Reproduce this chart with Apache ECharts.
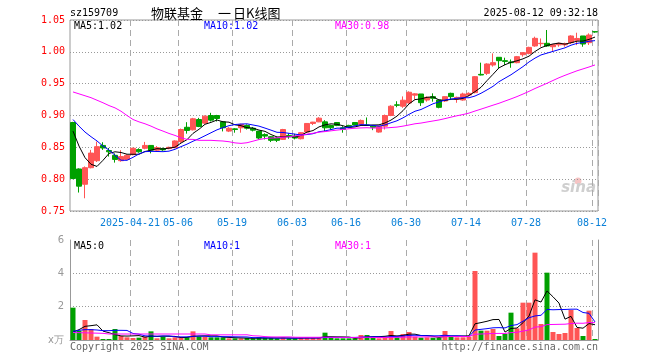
<!DOCTYPE html>
<html><head><meta charset="utf-8">
<script src="https://cdn.jsdelivr.net/npm/echarts@6/dist/echarts.min.js"></script>
<style>html,body{margin:0;padding:0;background:#fff}#c{width:660px;height:360px}</style>
</head><body><div id="c"></div>
<script>
// ---------------- data ----------------
const dates = [
 '2025-04-07','2025-04-08','2025-04-09','2025-04-10','2025-04-11','2025-04-14','2025-04-15','2025-04-16','2025-04-17','2025-04-18',
 '2025-04-21','2025-04-22','2025-04-23','2025-04-24','2025-04-25','2025-04-28','2025-04-29','2025-04-30',
 '2025-05-06','2025-05-07','2025-05-08','2025-05-09','2025-05-12','2025-05-13','2025-05-14','2025-05-15','2025-05-16',
 '2025-05-19','2025-05-20','2025-05-21','2025-05-22','2025-05-23','2025-05-26','2025-05-27','2025-05-28','2025-05-29','2025-05-30',
 '2025-06-03','2025-06-04','2025-06-05','2025-06-06','2025-06-09','2025-06-10','2025-06-11','2025-06-12','2025-06-13',
 '2025-06-16','2025-06-17','2025-06-18','2025-06-19','2025-06-20','2025-06-23','2025-06-24','2025-06-25','2025-06-26','2025-06-27',
 '2025-06-30','2025-07-01','2025-07-02','2025-07-03','2025-07-04','2025-07-07','2025-07-08','2025-07-09','2025-07-10','2025-07-11',
 '2025-07-14','2025-07-15','2025-07-16','2025-07-17','2025-07-18','2025-07-21','2025-07-22','2025-07-23','2025-07-24','2025-07-25',
 '2025-07-28','2025-07-29','2025-07-30','2025-07-31','2025-08-01','2025-08-04','2025-08-05','2025-08-06','2025-08-07','2025-08-08',
 '2025-08-11','2025-08-12'
];
const openP = [0.889,0.816,0.792,0.818,0.829,0.853,0.845,0.8375,0.829,0.831,
 0.8385,0.8465,0.8485,0.853,0.8455,0.848,0.848,0.8495,
 0.859,0.8815,0.8775,0.8937,0.888,0.900,0.900,0.890,0.8755,
 0.879,0.8807,0.8844,0.880,0.8755,0.870,0.8667,0.8646,0.8625,0.8687,
 0.8677,0.8635,0.874,0.8875,0.890,0.890,0.8844,0.889,0.8807,
 0.8844,0.889,0.886,0.8849,0.8833,0.874,0.8833,0.900,0.9167,0.9146,
 0.9198,0.932,0.9338,0.9243,0.9296,0.9243,0.9228,0.9348,0.9254,0.9243,
 0.9322,0.9359,0.9646,0.9662,0.9793,0.9914,0.9861,0.984,0.983,0.9955,
 0.9976,1.0092,1.0128,1.0134,1.008,1.011,1.011,1.0144,1.018,1.0249,
 1.0144,1.0317];
const closeP = [0.801,0.789,0.818,0.841,0.851,0.849,0.843,0.831,0.8355,0.8375,
 0.8485,0.843,0.853,0.8455,0.8495,0.846,0.850,0.860,
 0.878,0.8765,0.8948,0.8828,0.899,0.8927,0.8953,0.8807,0.880,
 0.878,0.886,0.880,0.877,0.8646,0.8677,0.861,0.861,0.878,0.8667,
 0.8646,0.873,0.8875,0.8896,0.8958,0.8807,0.8807,0.8844,0.878,
 0.8823,0.8849,0.8922,0.8844,0.8815,0.8833,0.900,0.9146,0.9161,0.924,
 0.9365,0.934,0.9201,0.9285,0.927,0.9128,0.9296,0.9296,0.9285,0.9338,
 0.9348,0.961,0.9636,0.9809,0.983,0.9861,0.985,0.983,0.9924,0.9987,
 1.007,1.0212,1.0134,1.0092,1.0112,1.0134,1.013,1.0249,1.021,1.0123,
 1.0264,1.0312];
const lowP = [0.800,0.779,0.770,0.817,0.827,0.846,0.8355,0.826,0.8275,0.830,
 0.8375,0.8415,0.847,0.8405,0.843,0.8445,0.847,0.8485,
 0.857,0.8715,0.8765,0.8817,0.887,0.8906,0.8906,0.875,0.874,
 0.873,0.873,0.878,0.875,0.8625,0.8625,0.8583,0.8583,0.8615,0.8635,
 0.8625,0.8625,0.873,0.885,0.8896,0.8755,0.877,0.8833,0.873,
 0.880,0.8844,0.8849,0.8838,0.877,0.873,0.878,0.899,0.913,0.912,
 0.9187,0.925,0.915,0.9217,0.9217,0.9113,0.9212,0.9243,0.920,0.9233,
 0.930,0.9348,0.963,0.9636,0.9767,0.974,0.9793,0.975,0.982,0.9924,
 0.996,1.008,1.008,1.008,1.000,1.008,1.008,1.0123,1.0105,1.008,
 1.0107,1.030];
const highP = [0.890,0.817,0.820,0.846,0.859,0.858,0.849,0.8405,0.8455,0.839,
 0.8495,0.8485,0.8585,0.853,0.852,0.8495,0.851,0.861,
 0.8795,0.8895,0.8963,0.8963,0.900,0.9042,0.901,0.891,0.8817,
 0.880,0.887,0.886,0.882,0.8755,0.872,0.8677,0.8667,0.879,0.872,
 0.8713,0.874,0.888,0.890,0.8974,0.8927,0.8854,0.889,0.8833,
 0.8854,0.889,0.8937,0.8969,0.8849,0.8833,0.9015,0.9161,0.9224,0.930,
 0.938,0.935,0.9338,0.930,0.9348,0.9243,0.930,0.9358,0.9296,0.9358,
 0.9364,0.962,0.983,0.982,0.9976,0.9914,0.9908,0.988,0.9935,0.9997,
 1.008,1.0238,1.021,1.0343,1.0123,1.0144,1.0144,1.026,1.030,1.0249,
 1.029,1.0322];
const volume = [1.94,0.55,1.2,0.66,0.2,0.06,0.06,0.66,0.24,0.16,
 0.12,0.14,0.2,0.52,0.1,0.2,0.1,0.16,
 0.16,0.16,0.52,0.2,0.2,0.16,0.16,0.16,0.1,
 0.1,0.1,0.12,0.1,0.16,0.12,0.12,0.1,0.14,0.1,
 0.1,0.14,0.14,0.12,0.14,0.44,0.14,0.1,0.1,
 0.1,0.1,0.3,0.3,0.2,0.1,0.22,0.54,0.16,0.36,
 0.48,0.2,0.14,0.16,0.14,0.14,0.54,0.2,0.16,0.16,
 0.2,4.14,0.56,0.56,0.66,0.24,0.36,1.64,0.7,2.24,
 2.24,5.24,0.96,4.04,0.48,0.36,0.42,1.8,0.72,0.24,
 1.76,0.06];
// moving-average values at the start of the window (need days before the chart)
const ma5Head  = [0.8755,0.852,0.8338,0.8234];
const ma10Head = [0.8937,0.8833,0.874,0.8667,0.860,0.852,0.8458,0.8375,0.8297];
const ma30Head = [0.937,0.934,0.931,0.928,0.924,0.920,0.9156,0.912,0.9067,0.900,
 0.8937,0.890,0.887,0.8833,0.879,0.8755,0.8718,0.8687,0.865,0.8625,
 0.8625,0.861,0.861,0.861,0.8604,0.8599,0.8588,0.857,0.8562];
const vma5Head  = [0.48,0.62,0.82,0.86];
const vma10Head = [0.52,0.58,0.62,0.62,0.60,0.56,0.56,0.58,0.58];
const vma30Head = [0.45,0.44,0.43,0.42,0.41,0.40,0.36,0.36,0.36,0.36,
 0.36,0.36,0.36,0.36,0.36,0.36,0.36,0.36,0.36,0.36,
 0.36,0.36,0.36,0.31,0.31,0.31,0.31,0.31,0.31];
const labelDates = ['2025-04-21','2025-05-06','2025-05-19','2025-06-03','2025-06-16','2025-06-30','2025-07-14','2025-07-28','2025-08-12'];
const priceMin = 0.75, priceMax = 1.05, priceStep = 0.05;
const volMin = 0, volMax = 6, volStep = 2;
const legendMain = ['MA5:1.02','MA10:1.02','MA30:0.98'];
const legendVol  = ['MA5:0','MA10:1','MA30:1'];
const code = 'sz159709';
const titleParts = ['物联基金','一','日K线图'];
const stamp = '2025-08-12 09:32:18';

// ---------------- helpers ----------------
function ma(arr, n, head){
  return arr.map((v,i)=>{
    if(i < n-1) return head[i];
    let s=0; for(let k=i-n+1;k<=i;k++) s+=arr[k];
    return +(s/n).toFixed(4);
  });
}
const UP='#ff5555', DOWN='#00a000';
const labelIdx = labelDates.map(d=>dates.indexOf(d));
const showAt = (i)=>labelIdx.indexOf(i)>=0;
const candles = dates.map((d,i)=>[openP[i],closeP[i],lowP[i],highP[i]]);
const volData = volume.map((v,i)=>({value:v,itemStyle:{color: closeP[i]>=openP[i]?UP:DOWN}}));
const MONO = 'DejaVu Sans Mono';

const chart = echarts.init(document.getElementById('c'), null, {renderer:'canvas'});
const lineS = (name, data, color, xi, yi)=>({
  name, type:'line', data, xAxisIndex:xi, yAxisIndex:yi, symbol:'none', silent:true,
  lineStyle:{color, width:1}, z:5
});
const vDash = {show:true, interval:(i)=>showAt(i), lineStyle:{color:'#aaa', type:[6,4], width:1}};

chart.setOption({
  animation:false,
  backgroundColor:'#fff',
  grid:[
    {left:70, right:62, top:20, height:191, show:true, borderColor:'#999', borderWidth:1},
    {left:70, right:62, top:240, height:100, show:false}
  ],
  xAxis:[
    {type:'category', gridIndex:0, data:dates, boundaryGap:true,
     axisLine:{show:false}, axisTick:{show:false},
     axisLabel:{interval:(i)=>showAt(i), formatter:(v,i)=> i===labelIdx[0]? v : v.slice(5),
       color:'#0a80d8', fontFamily:MONO, fontSize:10, margin:7, padding:[0,6,0,0]},
     splitLine:vDash},
    {type:'category', gridIndex:1, data:dates, boundaryGap:true, position:'top',
     axisLine:{show:true, lineStyle:{color:'#999', width:1}}, axisTick:{show:false},
     axisLabel:{show:false}, splitLine:vDash}
  ],
  yAxis:[
    {type:'value', gridIndex:0, min:priceMin, max:priceMax, interval:priceStep,
     axisLine:{show:false}, axisTick:{show:false},
     axisLabel:{color:'#ff0000', fontFamily:MONO, fontSize:10, margin:5, formatter:(v)=>v.toFixed(2)},
     splitLine:{show:true, lineStyle:{color:'#999', type:[1,2], width:1}}},
    {type:'value', gridIndex:1, min:volMin, max:volMax, interval:volStep,
     axisLine:{show:true, lineStyle:{color:'#999', width:1}}, axisTick:{show:false},
     axisLabel:{color:'#999', fontFamily:'DejaVu Sans', fontSize:10, margin:6,
       formatter:(v)=> v===0 ? 'x万' : String(v)},
     splitLine:{show:true, showMinLine:false, showMaxLine:false, lineStyle:{color:'#999', type:[1,2], width:1}}},
    {type:'value', gridIndex:1, min:volMin, max:volMax, interval:volStep, position:'right',
     axisLine:{show:true, lineStyle:{color:'#999', width:1}}, axisTick:{show:false},
     axisLabel:{show:false}, splitLine:{show:false}}
  ],
  series:[
    {name:'K', type:'candlestick', data:candles, xAxisIndex:0, yAxisIndex:0, barWidth:5, silent:true,
     itemStyle:{color:UP, color0:DOWN, borderColor:UP, borderColor0:DOWN, borderColorDoji:UP, borderWidth:1}},
    lineS('MA5', ma(closeP,5,ma5Head), '#000000', 0, 0),
    lineS('MA10', ma(closeP,10,ma10Head), '#0000ff', 0, 0),
    lineS('MA30', ma(closeP,30,ma30Head), '#ff00ff', 0, 0),
    {name:'VOL', type:'bar', data:volData, xAxisIndex:1, yAxisIndex:1, barWidth:5, silent:true},
    lineS('VMA5', ma(volume,5,vma5Head), '#000000', 1, 1),
    lineS('VMA10', ma(volume,10,vma10Head), '#0000ff', 1, 1),
    lineS('VMA30', ma(volume,30,vma30Head), '#ff00ff', 1, 1)
  ],
  graphic:[
    {type:'text', x:70, y:13, style:{text:code, fill:'#000', font:'10px "DejaVu Sans Mono"', verticalAlign:'middle'}},
    {type:'text', x:151, y:13, style:{text:titleParts[0], fill:'#000', font:'13px "Noto Sans CJK SC"', verticalAlign:'middle'}},
    {type:'text', x:218, y:13, style:{text:titleParts[1], fill:'#000', font:'13px "Noto Sans CJK SC"', verticalAlign:'middle'}},
    {type:'text', x:233, y:13, style:{text:titleParts[2], fill:'#000', font:'13px "Noto Sans CJK SC"', verticalAlign:'middle'}},
    {type:'text', x:598, y:13, style:{text:stamp, fill:'#000', font:'10px "DejaVu Sans Mono"', align:'right', verticalAlign:'middle'}},
    {type:'text', x:74, y:26, z:10, style:{text:legendMain[0], fill:'#000', font:'10px "DejaVu Sans Mono"', verticalAlign:'middle'}},
    {type:'text', x:204, y:26, z:10, style:{text:legendMain[1], fill:'#0000ff', font:'10px "DejaVu Sans Mono"', verticalAlign:'middle'}},
    {type:'text', x:335, y:26, z:10, style:{text:legendMain[2], fill:'#ff00ff', font:'10px "DejaVu Sans Mono"', verticalAlign:'middle'}},
    {type:'text', x:74, y:246, z:10, style:{text:legendVol[0], fill:'#000', font:'10px "DejaVu Sans Mono"', verticalAlign:'middle'}},
    {type:'text', x:204, y:246, z:10, style:{text:legendVol[1], fill:'#0000ff', font:'10px "DejaVu Sans Mono"', verticalAlign:'middle'}},
    {type:'text', x:335, y:246, z:10, style:{text:legendVol[2], fill:'#ff00ff', font:'10px "DejaVu Sans Mono"', verticalAlign:'middle'}},
    {type:'text', x:70, y:347, style:{text:'Copyright 2025 SINA.COM', fill:'#666', font:'10px "DejaVu Sans Mono"', verticalAlign:'middle'}},
    {type:'text', x:598, y:347, style:{text:'http://finance.sina.com.cn', fill:'#666', font:'10px "DejaVu Sans Mono"', align:'right', verticalAlign:'middle'}},
    {type:'circle', shape:{cx:578, cy:181, r:3.5}, style:{fill:'#f6c4c4'}, z:0},
    {type:'text', x:596, y:188, z:0, style:{text:'sina', fill:'#cfcfcf', font:'italic bold 15px "DejaVu Sans"', align:'right', verticalAlign:'middle'}}
  ]
});
</script></body></html>
